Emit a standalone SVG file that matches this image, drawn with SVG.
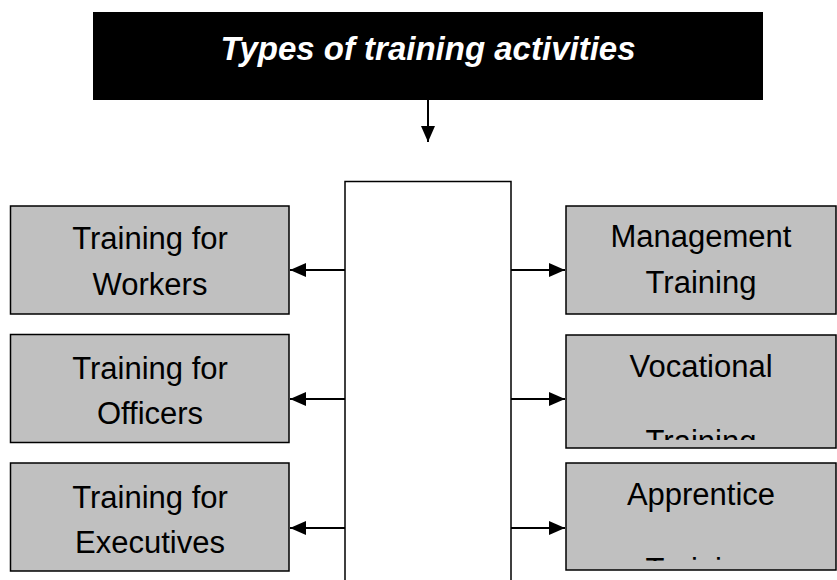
<svg xmlns="http://www.w3.org/2000/svg" width="837" height="580" viewBox="0 0 837 580">
<style>
.box{fill:#c0c0c0;stroke:#000;stroke-width:1.5}
.t{font-family:"Liberation Sans",Arial,sans-serif;font-size:31px;fill:#000;text-anchor:middle}
.title{font-family:"Liberation Sans",Arial,sans-serif;font-size:33px;font-weight:bold;font-style:italic;fill:#fff;text-anchor:middle}
.con{stroke:#000;stroke-width:2;fill:none}
</style>
<defs>
<marker id="ah" viewBox="0 0 16 14" refX="16" refY="7" markerWidth="16" markerHeight="14" markerUnits="userSpaceOnUse" orient="auto">
<path d="M0,0 L16,7 L0,14 z" fill="#000"/>
</marker>
<clipPath id="c2"><rect x="566" y="335" width="271" height="105"/></clipPath>
<clipPath id="c3"><rect x="566" y="463" width="271" height="98"/></clipPath>
</defs>
<g id="title">
<rect x="93" y="12" width="670" height="88" fill="#000"/>
<text class="title" x="428" y="60">Types of training activities</text>
</g>
<g id="hub">
<path d="M345,580 L345,181.5 L511,181.5 L511,580" fill="#fff" stroke="#000" stroke-width="1.5"/>
</g>
<g id="n1">
<rect class="box" x="10.5" y="206" width="278.5" height="108"/>
<text class="t" x="150" y="249">Training for</text>
<text class="t" x="150" y="295">Workers</text>
</g>
<g id="n2">
<rect class="box" x="10.5" y="334.5" width="278.5" height="108"/>
<text class="t" x="150" y="379">Training for</text>
<text class="t" x="150" y="424">Officers</text>
</g>
<g id="n3">
<rect class="box" x="10.5" y="463" width="278.5" height="108"/>
<text class="t" x="150" y="508">Training for</text>
<text class="t" x="150" y="553">Executives</text>
</g>
<g id="n4">
<rect class="box" x="566" y="206" width="270" height="108"/>
<text class="t" x="701" y="247">Management</text>
<text class="t" x="701" y="293">Training</text>
</g>
<g id="n5">
<rect class="box" x="566" y="335" width="270" height="113"/>
<g clip-path="url(#c2)">
<text class="t" x="701" y="377">Vocational</text>
<text class="t" x="701" y="452">Training</text>
</g>
</g>
<g id="n6">
<rect class="box" x="566" y="463" width="270" height="107"/>
<g clip-path="url(#c3)">
<text class="t" x="701" y="505">Apprentice</text>
<text class="t" x="701" y="580">Training</text>
</g>
</g>
<g id="connectors">
<line class="con" x1="428" y1="100" x2="428" y2="142" marker-end="url(#ah)"/>
<line class="con" x1="345" y1="270" x2="290" y2="270" marker-end="url(#ah)"/>
<line class="con" x1="345" y1="399" x2="290" y2="399" marker-end="url(#ah)"/>
<line class="con" x1="345" y1="528" x2="290" y2="528" marker-end="url(#ah)"/>
<line class="con" x1="511" y1="270" x2="565" y2="270" marker-end="url(#ah)"/>
<line class="con" x1="511" y1="399" x2="565" y2="399" marker-end="url(#ah)"/>
<line class="con" x1="511" y1="528" x2="565" y2="528" marker-end="url(#ah)"/>
</g>
</svg>
